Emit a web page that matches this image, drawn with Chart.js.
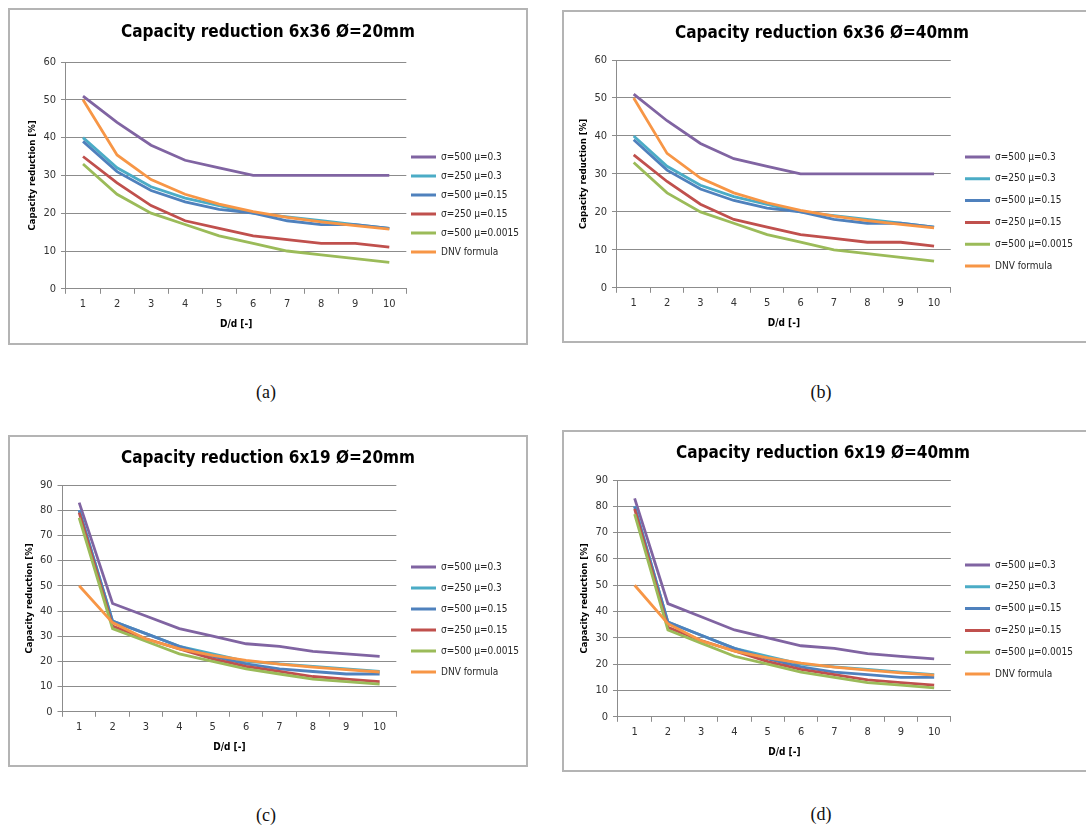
<!DOCTYPE html>
<html>
<head>
<meta charset="utf-8">
<script src="https://cdn.jsdelivr.net/npm/chart.js@4.4.1/dist/chart.umd.min.js"></script>
<style>
    body { margin: 0; background: #fff; width: 1086px; height: 831px; overflow: hidden; position: relative; }
    .box { position: absolute; border: 2px solid #b4b4b4; background: #fff; }
    .box canvas { display: block; }
    .caption { position: absolute; font-family: "Liberation Serif", "DejaVu Serif", serif; font-size: 18px; color: #111; transform: translateX(-50%); }
</style>
</head>
<body>
<div class="box" style="left:8px; top:8px;"><canvas id="chartA" width="516" height="333"></canvas></div>
<div class="box" style="left:562px; top:10px;"><canvas id="chartB" width="530" height="329"></canvas></div>
<div class="box" style="left:8px; top:435px;"><canvas id="chartC" width="516" height="328"></canvas></div>
<div class="box" style="left:562px; top:430px;"><canvas id="chartD" width="530" height="338"></canvas></div>

<div class="caption" style="left:266px; top:382px;">(a)</div>
<div class="caption" style="left:821px; top:382px;">(b)</div>
<div class="caption" style="left:266px; top:805px;">(c)</div>
<div class="caption" style="left:821px; top:804px;">(d)</div>

<script>
// Datos
const ratioLabels = ['1', '2', '3', '4', '5', '6', '7', '8', '9', '10'];
const seriesNames = ['σ=500 μ=0.3', 'σ=250 μ=0.3', 'σ=500 μ=0.15', 'σ=250 μ=0.15', 'σ=500 μ=0.0015', 'DNV formula'];

// Cable 6x36
const r36_s500_m03 = [51, 44, 38, 34, 32, 30, 30, 30, 30, 30];
const r36_s250_m03 = [40, 32, 27, 24, 22, 20, 19, 18, 17, 16];
const r36_s500_m015 = [39, 31, 26, 23, 21, 20, 18, 17, 17, 16];
const r36_s250_m015 = [35, 28, 22, 18, 16, 14, 13, 12, 12, 11];
const r36_s500_m00015 = [33, 25, 20, 17, 14, 12, 10, 9, 8, 7];

// Cable 6x19
const r19_s500_m03 = [83, 43, 38, 33, 30, 27, 26, 24, 23, 22];
const r19_s250_m03 = [80, 36, 31, 26, 23, 20, 19, 18, 17, 16];
const r19_s500_m015 = [80, 36, 31, 26, 22, 19, 17, 16, 15, 15];
const r19_s250_m015 = [79, 34, 29, 25, 21, 18, 16, 14, 13, 12];
const r19_s500_m00015 = [77, 33, 28, 23, 20, 17, 15, 13, 12, 11];

// Formula DNV
const dnvFormula = [50, 35.4, 28.9, 25, 22.4, 20.4, 18.9, 17.7, 16.7, 15.8];

const seriesColors = ['#8064A2', '#4BACC6', '#4F81BD', '#C0504D', '#9BBB59', '#F79646'];
const fontMain = '"Liberation Sans Narrow", "DejaVu Sans Condensed", "Liberation Sans", sans-serif';
const legendFontSize = 10;

// Colocar leyenda y titulo: x = inicio de la linea, y = centro del primer elemento
const boxPlace = {
    id: 'boxPlace',
    afterLayout(chart, args, opts) {
        const lg = chart.legend;
        if (lg) {
            const pad = lg.options.labels.padding;
            const w = lg.width, h = lg.height;
            lg.left = opts.x - pad;
            lg.right = lg.left + w;
            lg.top = opts.y - legendFontSize / 2 - pad;
            lg.bottom = lg.top + h;
        }
        const tb = chart.titleBlock;
        if (tb && opts.titleX) {
            const tw = tb.right - tb.left;
            tb.left = opts.titleX - tw / 2;
            tb.right = tb.left + tw;
        }
    }
};

function makeChart(canvasId, title, series, yMax, cfg) {
    const canvas = document.getElementById(canvasId);
    const ctx = canvas.getContext('2d');
    const datasets = series.map((values, i) => ({
        label: seriesNames[i],
        data: values,
        borderColor: seriesColors[i],
        backgroundColor: seriesColors[i],
        borderWidth: 2.8,
        pointRadius: 0,
        tension: 0,
        order: series.length - i
    }));

    const chart = new Chart(ctx, {
        type: 'line',
        data: { labels: ratioLabels, datasets: datasets },
        plugins: [boxPlace],
        options: {
            responsive: false,
            animation: false,
            layout: { padding: cfg.padding },
            plugins: {
                boxPlace: { x: cfg.legendX, y: cfg.legendY, titleX: cfg.titleX },
                tooltip: { enabled: false },
                title: {
                    display: true,
                    text: title,
                    color: '#000',
                    font: { family: fontMain, size: 17, weight: 'bold' },
                    padding: { top: 4, bottom: cfg.titleGap }
                },
                legend: {
                    position: 'right',
                    align: 'start',
                    labels: {
                        boxWidth: 25,
                        boxHeight: 3,
                        padding: cfg.legendPad,
                        color: '#262626',
                        font: { family: fontMain, size: legendFontSize },
                        sort: (a, b) => a.datasetIndex - b.datasetIndex,
                        generateLabels: (chart) => {
                            const items = Chart.defaults.plugins.legend.labels.generateLabels(chart);
                            return items.map(item => Object.assign(item, { lineWidth: 0 }));
                        }
                    }
                }
            },
            scales: {
                x: {
                    offset: true,
                    grid: {
                        offset: true,
                        drawOnChartArea: false,
                        color: '#8c8c8c',
                        tickLength: 5
                    },
                    border: { color: '#8c8c8c', width: 1 },
                    ticks: { color: '#333', font: { family: fontMain, size: 11 }, padding: 4, maxRotation: 0 },
                    title: {
                        display: true,
                        text: 'D/d [-]',
                        color: '#000',
                        font: { family: fontMain, size: 10, weight: 'bold' },
                        padding: { top: 3 }
                    }
                },
                y: {
                    min: 0,
                    max: yMax,
                    ticks: { stepSize: 10, color: '#333', font: { family: fontMain, size: 11 }, padding: 5 },
                    grid: { color: '#8c8c8c', tickLength: 5 },
                    border: { color: '#8c8c8c', width: 1 },
                    title: {
                        display: true,
                        text: 'Capacity reduction [%]',
                        color: '#000',
                        font: { family: fontMain, size: 9.5, weight: 'bold' },
                        padding: { top: 0, bottom: 0 }
                    }
                }
            }
        }
    });

    // Ajustar el margen derecho para que el area del grafico termine donde toca
    chart.options.layout.padding.right = canvas.width - cfg.plotRight - chart.legend.width;
    chart.update();
    return chart;
}

const series36 = [r36_s500_m03, r36_s250_m03, r36_s500_m015, r36_s250_m015, r36_s500_m00015, dnvFormula];
const series19 = [r19_s500_m03, r19_s250_m03, r19_s500_m015, r19_s250_m015, r19_s500_m00015, dnvFormula];

window.chartA = makeChart('chartA', 'Capacity reduction 6x36 Ø=20mm', series36, 60, {
    padding: { left: 17, right: 0, top: 8, bottom: 9 }, titleGap: 19.6, plotRight: 398, titleX: 258,
    legendX: 401, legendY: 147, legendPad: 9
});
window.chartB = makeChart('chartB', 'Capacity reduction 6x36 Ø=40mm', series36, 60, {
    padding: { left: 14, right: 0, top: 7, bottom: 8 }, titleGap: 16.6, plotRight: 382, titleX: 258,
    legendX: 401, legendY: 145, legendPad: 11.8
});
window.chartC = makeChart('chartC', 'Capacity reduction 6x19 Ø=20mm', series19, 90, {
    padding: { left: 13.5, right: 0, top: 7, bottom: 8 }, titleGap: 16.6, plotRight: 385, titleX: 258,
    legendX: 401, legendY: 130, legendPad: 11
});
window.chartD = makeChart('chartD', 'Capacity reduction 6x19 Ø=40mm', series19, 90, {
    padding: { left: 15, right: 0, top: 7, bottom: 8 }, titleGap: 16.6, plotRight: 382, titleX: 259,
    legendX: 401, legendY: 133, legendPad: 11.8
});
</script>
</body>
</html>
